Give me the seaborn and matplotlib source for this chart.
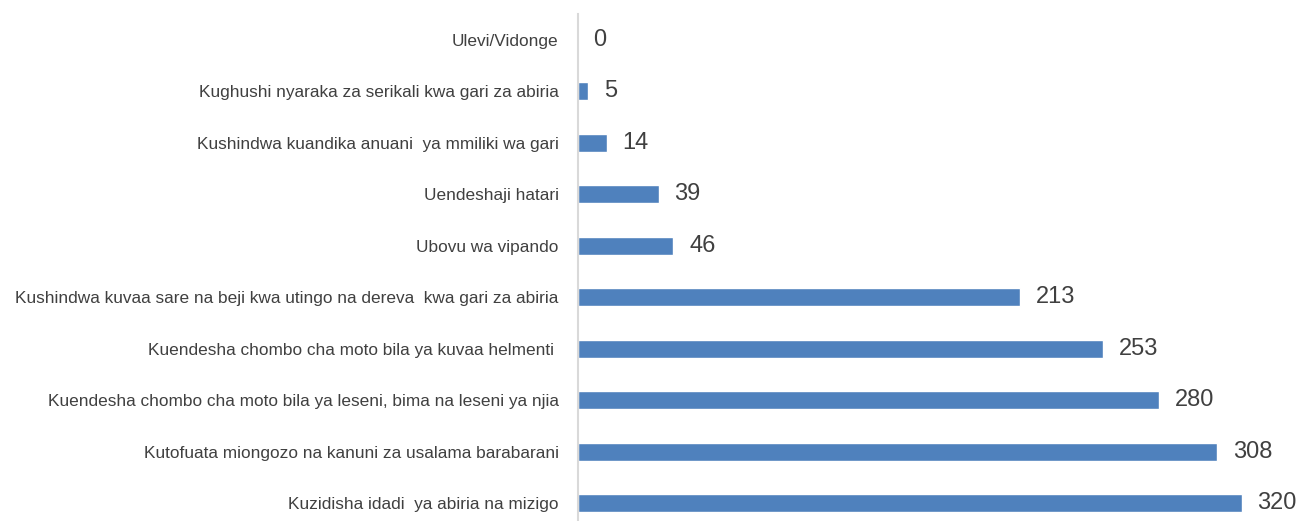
import matplotlib
matplotlib.use("Agg")
import matplotlib.pyplot as plt
import seaborn as sns
import pandas as pd
from matplotlib import font_manager

categories = [
    "Ulevi/Vidonge",
    "Kughushi nyaraka za serikali kwa gari za abiria",
    "Kushindwa kuandika anuani  ya mmiliki wa gari",
    "Uendeshaji hatari",
    "Ubovu wa vipando",
    "Kushindwa kuvaa sare na beji kwa utingo na dereva  kwa gari za abiria",
    "Kuendesha chombo cha moto bila ya kuvaa helmenti ",
    "Kuendesha chombo cha moto bila ya leseni, bima na leseni ya njia",
    "Kutofuata miongozo na kanuni za usalama barabarani",
    "Kuzidisha idadi  ya abiria na mizigo",
]
counts = [0, 5, 14, 39, 46, 213, 253, 280, 308, 320]

df = pd.DataFrame({"kosa": categories, "idadi": counts})

sns.set_style("white")
names = {f.name for f in font_manager.fontManager.ttflist}
fam = ["Liberation Sans Narrow", "DejaVu Sans"] if "Liberation Sans Narrow" in names else ["Liberation Sans", "DejaVu Sans"]
plt.rcParams["font.family"] = fam

fig = plt.figure(figsize=(12.98, 5.21), dpi=100)
ax = fig.add_axes([578 / 1298, 0, 720 / 1298, 1 - 14 / 521])

sns.barplot(data=df, y="kosa", x="idadi", orient="h", color="#4F81BD",
            saturation=1, width=0.35, ax=ax)

ax.set_xlim(0, 347)
ax.set_ylim(9.35, -0.5)
ax.set_xlabel("")
ax.set_ylabel("")
ax.set_xticks([])
for s in ["top", "right", "bottom"]:
    ax.spines[s].set_visible(False)
ax.spines["left"].set_color("#D9D9D9")
ax.spines["left"].set_linewidth(1.5)
ax.tick_params(axis="y", length=0, pad=14, labelsize=12.4, labelcolor="#404040")

for i, v in enumerate(counts):
    ax.text(v + 7.5, i, str(v), va="center", ha="left", fontsize=17, color="#404040")

fig.savefig("out.png", dpi=100)
